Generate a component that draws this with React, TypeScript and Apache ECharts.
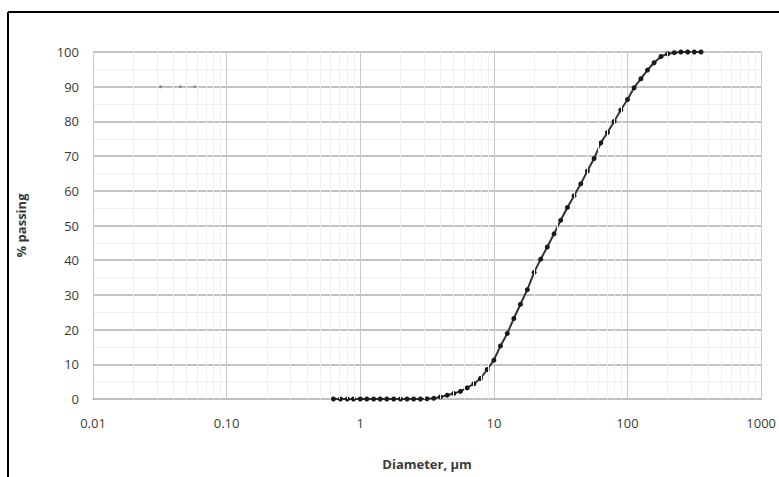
import React, { useEffect, useRef } from "react";
import * as echarts from "echarts";

const diameters = [
  0.63, 0.71, 0.8, 0.89, 1.0, 1.12, 1.26, 1.41, 1.58, 1.78, 2.0, 2.24, 2.51, 2.82, 3.16, 3.55,
  3.98, 4.47, 5.01, 5.62, 6.31, 7.08, 7.94, 8.91, 10, 11.2, 12.6, 14.1, 15.8, 17.8, 20.0, 22.4,
  25.1, 28.2, 31.6, 35.5, 39.8, 44.7, 50.1, 56.2, 63.1, 70.8, 79.4, 89.1, 100, 112, 126, 141,
  158, 178, 200, 224, 251, 282, 316, 355,
];
const passing = [
  0, 0, 0, 0, 0, 0, 0, 0, 0, 0, 0, 0, 0, 0, 0.05, 0.2,
  0.6, 1.1, 1.6, 2.2, 3.2, 4.4, 5.9, 8.5, 11.2, 15.3, 18.9, 23.2, 27.3, 31.5, 36.5, 40.3,
  43.8, 47.6, 51.5, 55.2, 58.6, 62.0, 65.7, 69.3, 73.8, 76.8, 80.0, 83.3, 86.3, 89.7, 92.3, 94.8,
  96.9, 98.7, 99.5, 99.8, 100, 100, 100, 100,
];
const strayX = [0.032, 0.045, 0.058];
const strayY = [90, 90, 90];
const xTickLabels: Record<string, string> = {
  "0.01": "0.01", "0.1": "0.10", "1": "1", "10": "10", "100": "100", "1000": "1000",
};
const minorX = [
  0.02, 0.03, 0.04, 0.05, 0.06, 0.07, 0.08, 0.09,
  0.2, 0.3, 0.4, 0.5, 0.6, 0.7, 0.8, 0.9,
  2, 3, 4, 5, 6, 7, 8, 9,
  20, 30, 40, 50, 60, 70, 80, 90,
  200, 300, 400, 500, 600, 700, 800, 900,
];

const FONT = "'Open Sans', 'Liberation Sans', sans-serif";

export default function App() {
  const ref = useRef<HTMLDivElement>(null);
  useEffect(() => {
    document.body.style.margin = "0";
    const chart = echarts.init(ref.current!, null, { renderer: "svg" });
    chart.setOption({
      animation: false,
      backgroundColor: "#ffffff",
      grid: { left: 93, right: 16, top: 52, bottom: 78 },
      xAxis: {
        type: "log",
        logBase: 10,
        min: 0.01,
        max: 1000,
        name: "Diameter, µm",
        nameLocation: "middle",
        nameGap: 58,
        nameTextStyle: { color: "#3a3a3a", fontSize: 13, fontFamily: FONT, fontWeight: "bold" },
        axisLine: { show: true, lineStyle: { color: "#bfbfbf", width: 2 } },
        axisTick: { show: false },
        axisLabel: {
          color: "#3a3a3a",
          fontSize: 13,
          fontFamily: FONT,
          margin: 17,
          formatter: (v: number) => {
            const k = String(+v.toPrecision(6));
            return xTickLabels[k] ?? k;
          },
        },
        splitLine: { show: true, lineStyle: { color: "#c8c8c8", width: 1 } },
      },
      yAxis: {
        type: "value",
        min: 0,
        max: 100,
        interval: 10,
        name: "% passing",
        nameLocation: "middle",
        nameGap: 66,
        nameTextStyle: { color: "#3a3a3a", fontSize: 13, fontFamily: FONT, fontWeight: "bold" },
        axisLine: { show: true, lineStyle: { color: "#c8c8c8", width: 1 } },
        axisTick: { show: false },
        axisLabel: { color: "#3a3a3a", fontSize: 13, fontFamily: FONT, margin: 14 },
        splitLine: { show: true, lineStyle: { color: "#c4c4c4", width: 2 } },
        minorTick: { show: false, splitNumber: 2 },
        minorSplitLine: { show: true, lineStyle: { color: "#eeeeee", width: 1 } },
      },
      series: [
        {
          type: "line",
          data: diameters.map((d, i) => [d, passing[i]]),
          symbol: "circle",
          symbolSize: 5,
          itemStyle: { color: "#1a1a1a" },
          lineStyle: { color: "#333333", width: 2 },
          markLine: {
            silent: true,
            symbol: "none",
            label: { show: false },
            lineStyle: { color: "#f0f0f0", width: 1, type: "solid" },
            data: minorX.map((v) => ({ xAxis: v })),
          },
          z: 3,
        },
        {
          type: "line",
          data: strayX.map((d, i) => [d, strayY[i]]),
          symbol: "circle",
          symbolSize: 3,
          itemStyle: { color: "#888888" },
          lineStyle: { color: "#aaaaaa", width: 1, type: "dashed" },
          z: 3,
        },
      ],
      graphic: [
        { type: "line", shape: { x1: 8, y1: 12, x2: 779, y2: 12 }, style: { stroke: "#000", lineWidth: 2 } },
        { type: "line", shape: { x1: 8, y1: 12, x2: 8, y2: 477 }, style: { stroke: "#000", lineWidth: 2 } },
      ],
    });
    return () => chart.dispose();
  }, []);
  return <div ref={ref} style={{ width: 779, height: 477 }} />;
}
